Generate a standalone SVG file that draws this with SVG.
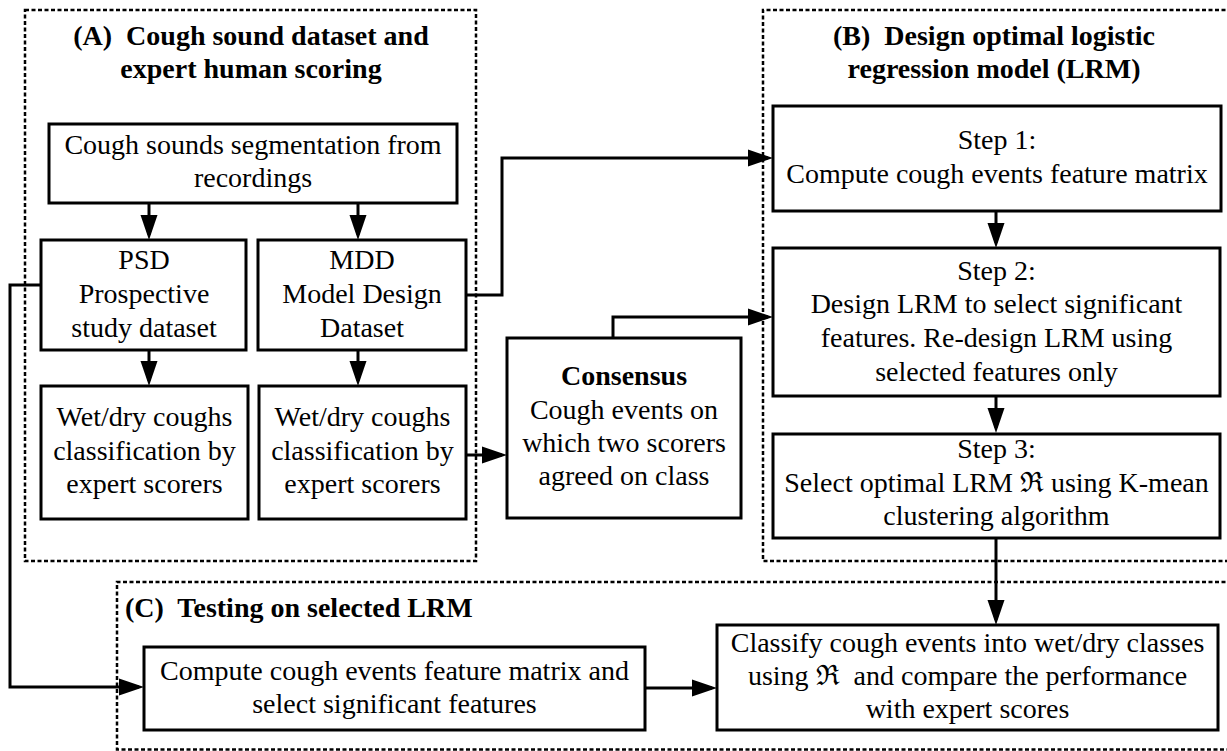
<svg xmlns="http://www.w3.org/2000/svg" width="1227" height="751" viewBox="0 0 1227 751">
<style>
text{font-family:"Liberation Serif","Times New Roman","DejaVu Serif",serif;font-size:28px;fill:#000;text-anchor:middle}
.t{font-weight:bold}
.l{text-anchor:start}
.box{fill:#fff;stroke:#000;stroke-width:3}
.grp{fill:none;stroke:#000;stroke-width:2.5;stroke-dasharray:4 2.5}
.c{fill:none;stroke:#000;stroke-width:3}
</style>
<defs>
<marker id="ah" markerUnits="userSpaceOnUse" markerWidth="26" markerHeight="18" refX="20" refY="9" orient="auto" viewBox="0 0 26 18">
<path d="M0,0.5 L25,9 L0,17.5 z" fill="#000"/>
</marker>
</defs>
<g id="groups">
<rect class="grp" x="25" y="10" width="451" height="551"/>
<path class="grp" d="M1232,10 H763 V561 H1232"/>
<path class="grp" d="M1232,582 H117 V749.5 H1232"/>
<text class="t" x="251" y="45" xml:space="preserve">(A)  Cough sound dataset and</text>
<text class="t" x="251" y="78">expert human scoring</text>
<text class="t" x="994" y="45" xml:space="preserve">(B)  Design optimal logistic</text>
<text class="t" x="994" y="78">regression model (LRM)</text>
<text class="t l" x="125" y="617" xml:space="preserve">(C)  Testing on selected LRM</text>
</g>
<g id="connectors">
<path class="c" d="M149,203 V235" marker-end="url(#ah)"/>
<path class="c" d="M358,203 V235" marker-end="url(#ah)"/>
<path class="c" d="M149,350 V381" marker-end="url(#ah)"/>
<path class="c" d="M358,350 V381" marker-end="url(#ah)"/>
<path class="c" d="M466,295 H502 V158 H768" marker-end="url(#ah)"/>
<path class="c" d="M466,455 H502" marker-end="url(#ah)"/>
<path class="c" d="M613,338 V317 H768" marker-end="url(#ah)"/>
<path class="c" d="M996,211 V243" marker-end="url(#ah)"/>
<path class="c" d="M996,396 V428" marker-end="url(#ah)"/>
<path class="c" d="M996,538 V620" marker-end="url(#ah)"/>
<path class="c" d="M41,285 H10 V687 H139" marker-end="url(#ah)"/>
<path class="c" d="M645,688 H712" marker-end="url(#ah)"/>
</g>
<g id="seg">
<rect class="box" x="49" y="124" width="408" height="79"/>
<text x="253" y="154">Cough sounds segmentation from</text>
<text x="253" y="187">recordings</text>
</g>
<g id="psd">
<rect class="box" x="41" y="240" width="205" height="110"/>
<text x="144" y="269">PSD</text>
<text x="144" y="303">Prospective</text>
<text x="144" y="337">study dataset</text>
</g>
<g id="mdd">
<rect class="box" x="258" y="240" width="208" height="110"/>
<text x="362" y="269">MDD</text>
<text x="362" y="303">Model Design</text>
<text x="362" y="337">Dataset</text>
</g>
<g id="wd1">
<rect class="box" x="41" y="386" width="207" height="133"/>
<text x="144.5" y="426">Wet/dry coughs</text>
<text x="144.5" y="460">classification by</text>
<text x="144.5" y="493">expert scorers</text>
</g>
<g id="wd2">
<rect class="box" x="259" y="386" width="207" height="133"/>
<text x="362.5" y="426">Wet/dry coughs</text>
<text x="362.5" y="460">classification by</text>
<text x="362.5" y="493">expert scorers</text>
</g>
<g id="consensus">
<rect class="box" x="507" y="338" width="234" height="180"/>
<text class="t" x="624" y="385">Consensus</text>
<text x="624" y="419">Cough events on</text>
<text x="624" y="452">which two scorers</text>
<text x="624" y="485">agreed on class</text>
</g>
<g id="step1">
<rect class="box" x="773" y="106" width="448" height="105"/>
<text x="997" y="149">Step 1:</text>
<text x="997" y="183">Compute cough events feature matrix</text>
</g>
<g id="step2">
<rect class="box" x="773" y="248" width="447" height="148"/>
<text x="996.5" y="280">Step 2:</text>
<text x="996.5" y="313">Design LRM to select significant</text>
<text x="996.5" y="347">features. Re-design LRM using</text>
<text x="996.5" y="381">selected features only</text>
</g>
<g id="step3">
<rect class="box" x="773" y="434" width="447" height="104"/>
<text x="996.5" y="458">Step 3:</text>
<text x="996.5" y="492">Select optimal LRM ℜ using K-mean</text>
<text x="996.5" y="525">clustering algorithm</text>
</g>
<g id="compute">
<rect class="box" x="144" y="647" width="501" height="83"/>
<text x="394.5" y="680">Compute cough events feature matrix and</text>
<text x="394.5" y="713">select significant features</text>
</g>
<g id="classify">
<rect class="box" x="717" y="625" width="501" height="105"/>
<text x="967.5" y="652">Classify cough events into wet/dry classes</text>
<text x="967.5" y="685" xml:space="preserve">using ℜ  and compare the performance</text>
<text x="967.5" y="718">with expert scores</text>
</g>
</svg>
